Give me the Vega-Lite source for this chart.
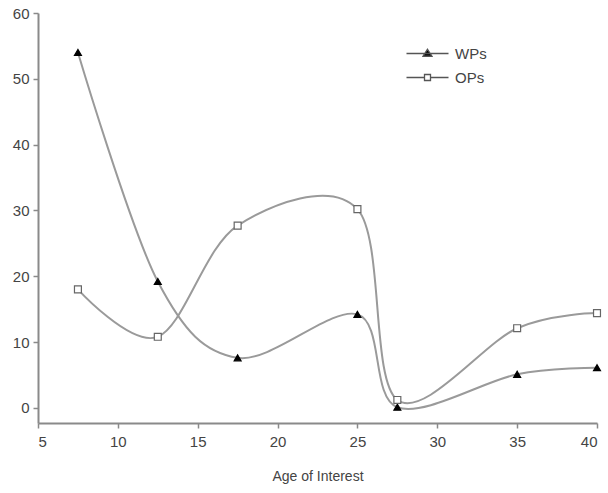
{
  "$schema": "https://vega.github.io/schema/vega-lite/v6.json",
  "width": 559,
  "height": 410,
  "autosize": {"type": "none"},
  "padding": {"left": 38, "top": 13, "right": 11, "bottom": 70},
  "background": "white",
  "config": {
    "view": {"stroke": null},
    "font": "Liberation Sans",
    "axis": {
      "grid": false,
      "domainColor": "#8a8a8a",
      "domainWidth": 2,
      "tickColor": "#8a8a8a",
      "tickWidth": 1.5,
      "tickSize": 5,
      "labelFont": "Liberation Sans",
      "labelFontSize": 15,
      "labelColor": "#444444",
      "titleFont": "Liberation Sans",
      "titleFontSize": 14,
      "titleFontWeight": "normal",
      "titleColor": "#444444"
    },
    "legend": {
      "labelFontSize": 15,
      "labelColor": "#444444",
      "labelFont": "Liberation Sans",
      "rowPadding": 8,
      "labelOffset": 20,
      "symbolOpacity": 1,
      "symbolStrokeWidth": 1.3
    }
  },
  "data": {
    "values": [
      {"age": 7.5, "value": 54.0, "series": "WPs"},
      {"age": 12.5, "value": 19.2, "series": "WPs"},
      {"age": 17.5, "value": 7.6, "series": "WPs"},
      {"age": 25, "value": 14.2, "series": "WPs"},
      {"age": 27.5, "value": 0.1, "series": "WPs"},
      {"age": 35, "value": 5.1, "series": "WPs"},
      {"age": 40, "value": 6.1, "series": "WPs"},
      {"age": 7.5, "value": 18.0, "series": "OPs"},
      {"age": 12.5, "value": 10.8, "series": "OPs"},
      {"age": 17.5, "value": 27.7, "series": "OPs"},
      {"age": 25, "value": 30.2, "series": "OPs"},
      {"age": 27.5, "value": 1.2, "series": "OPs"},
      {"age": 35, "value": 12.1, "series": "OPs"},
      {"age": 40, "value": 14.4, "series": "OPs"}
    ]
  },
  "encoding": {
    "x": {
      "field": "age", "type": "quantitative",
      "scale": {"domain": [5, 40], "nice": false, "zero": false},
      "axis": {"values": [5, 10, 15, 20, 25, 30, 35, 40], "title": "Age of Interest", "titlePadding": 20, "labelPadding": 6}
    },
    "y": {
      "field": "value", "type": "quantitative",
      "scale": {"domain": [-2.3, 60], "nice": false, "zero": false},
      "axis": {"values": [0, 10, 20, 30, 40, 50, 60], "title": null, "labelPadding": 4}
    }
  },
  "resolve": {
    "scale": {"shape": "independent", "fill": "independent", "stroke": "independent"},
    "legend": {"shape": "independent", "fill": "independent", "stroke": "independent"}
  },
  "layer": [
    {
      "mark": {"type": "line", "interpolate": "cardinal", "color": "#9a9a9a", "strokeWidth": 2},
      "encoding": {"detail": {"field": "series"}}
    },
    {
      "mark": {"type": "point", "filled": false, "size": 48, "strokeWidth": 1.2},
      "encoding": {
        "shape": {"field": "series", "scale": {"domain": ["WPs", "OPs"], "range": ["triangle-up", "square"]}, "legend": null},
        "fill": {"field": "series", "scale": {"domain": ["WPs", "OPs"], "range": ["#000000", "#ffffff"]}, "legend": null},
        "stroke": {"field": "series", "scale": {"domain": ["WPs", "OPs"], "range": ["#000000", "#666666"]}, "legend": null},
        "opacity": {"value": 1}
      }
    },
    {
      "mark": {"type": "point", "size": 64, "filled": false, "strokeWidth": 1.3},
      "encoding": {
        "shape": {
          "field": "series",
          "scale": {"domain": ["WPs", "OPs"], "range": ["M-4.2,0H4.2M0,-0.85L0.9,0.55H-0.9Z", "M-4.2,0H-0.6M0.6,0H4.2M-0.6,-0.6H0.6V0.6H-0.6Z"]},
          "legend": {"title": null, "orient": "none", "legendX": 382, "legendY": 33}
        },
        "fill": {
          "field": "series",
          "scale": {"domain": ["WPs", "OPs"], "range": ["#000000", "#ffffff"]},
          "legend": {"title": null, "orient": "none", "legendX": 382, "legendY": 33}
        },
        "stroke": {
          "field": "series",
          "scale": {"domain": ["WPs", "OPs"], "range": ["#555555", "#555555"]},
          "legend": {"title": null, "orient": "none", "legendX": 382, "legendY": 33}
        },
        "opacity": {"value": 0}
      }
    }
  ]
}
